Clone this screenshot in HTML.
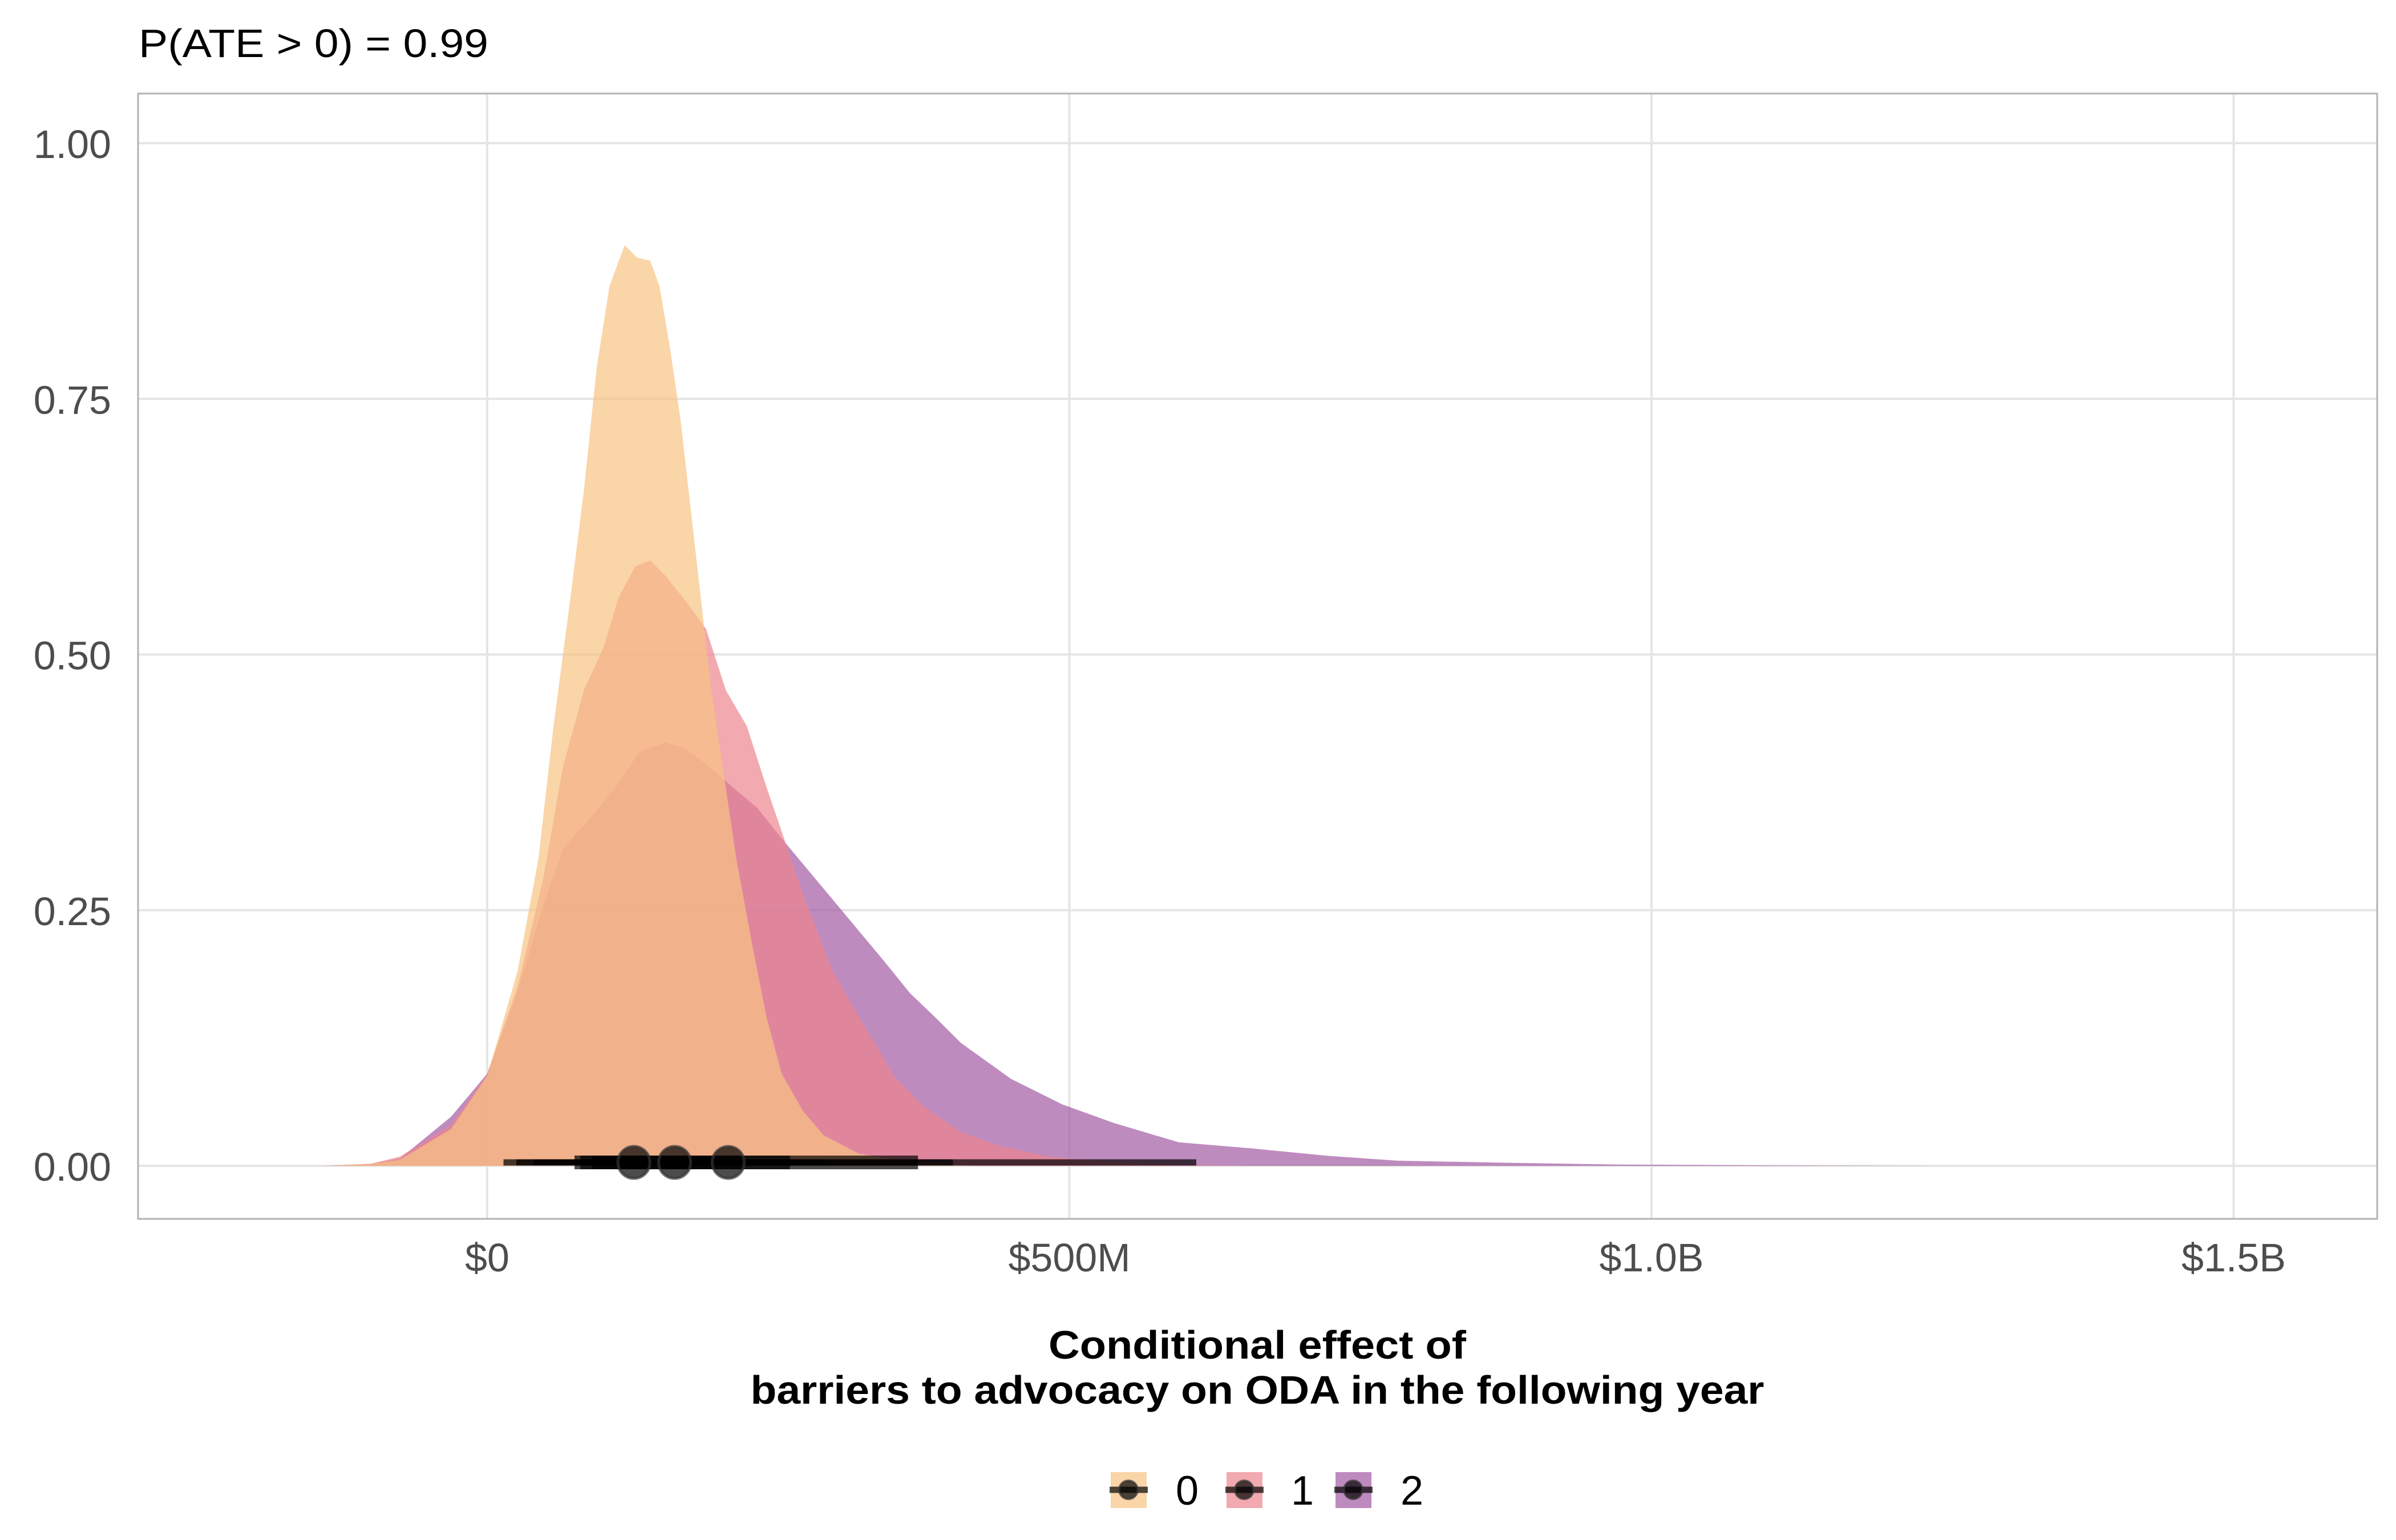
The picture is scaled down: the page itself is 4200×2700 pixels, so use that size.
<!DOCTYPE html>
<html><head><meta charset="utf-8"><style>
html,body{margin:0;padding:0;background:#fff;}
svg{display:block;font-family:"Liberation Sans",sans-serif;}
</style></head><body>
<svg id="chart" xmlns="http://www.w3.org/2000/svg" width="4200" height="2700" viewBox="0 0 4200 2700">
<rect x="0" y="0" width="4200" height="2700" fill="#fff"/>
<text x="243" y="100" font-size="70" fill="#000" textLength="613" lengthAdjust="spacingAndGlyphs">P(ATE &gt; 0) = 0.99</text>
<defs><clipPath id="pc"><rect x="242" y="164" width="3925" height="1973"/></clipPath></defs>
<g id="grid"></g>
<g id="dens" clip-path="url(#pc)"></g>
<g id="intv"></g>
<rect x="242" y="164" width="3925" height="1973" fill="none" stroke="#b3b3b3" stroke-width="3"/>
<g id="yticks"></g>
<g id="xticks"></g>
<text x="2204" y="2382" text-anchor="middle" font-size="70" font-weight="bold" fill="#000" textLength="732" lengthAdjust="spacingAndGlyphs">Conditional effect of</text>
<text x="2204" y="2461" text-anchor="middle" font-size="70" font-weight="bold" fill="#000" textLength="1777" lengthAdjust="spacingAndGlyphs">barriers to advocacy on ODA in the following year</text>
<g id="legend"></g>
</svg>
<script>
const groups = ["0","1","2"];
const colors = ["#f8c383","#ec858e","#a25aa4"];
const xs0 = [-140,-100,-75,-31,0,26,44,57,72,83,94,105,118,129,140,148,157,166,175,183,192,201,214,227,240,253,271,289,319,363,420];
const ys0 = [0,0.002,0.006,0.036,0.088,0.19,0.30,0.43,0.56,0.66,0.78,0.86,0.90,0.888,0.885,0.86,0.80,0.73,0.64,0.56,0.47,0.40,0.30,0.22,0.145,0.09,0.054,0.03,0.012,0.003,0];
const xs1 = [-140,-100,-75,-31,0,26,48,65,83,100,113,127,140,153,170,188,205,223,240,258,275,297,325,350,375,407,438,482,532,594,650];
const ys1 = [0,0.002,0.009,0.04,0.09,0.175,0.28,0.39,0.465,0.507,0.556,0.586,0.592,0.577,0.553,0.525,0.465,0.43,0.37,0.31,0.254,0.19,0.135,0.087,0.058,0.033,0.02,0.009,0.004,0.001,0];
const xs2 = [-140,-100,-75,-31,0,26,48,65,87,109,131,153,170,188,210,232,253,275,297,319,341,363,385,407,450,494,538,594,657,720,782,876,970,1100,1250];
const ys2 = [0,0.002,0.007,0.048,0.09,0.17,0.254,0.31,0.338,0.368,0.405,0.414,0.408,0.393,0.371,0.35,0.32,0.29,0.26,0.23,0.2,0.169,0.145,0.12,0.085,0.06,0.042,0.023,0.017,0.01,0.005,0.003,0.0013,0.0005,0];
const medians = [126,161,207];
const lo95 = [14,25,40];
const hi95 = [290,400,609];
const lo66 = [80,90,75];
const hi66 = [195,260,370];
const yTickVals = [0,0.25,0.5,0.75,1];
const yTickLabels = ["0.00","0.25","0.50","0.75","1.00"];
const xTickVals = [0,500,1000,1500];
const xTickLabels = ["$0","$500M","$1.0B","$1.5B"];

const NS = "http://www.w3.org/2000/svg";
const X = m => 854 + m * 2.041;
const Y = d => 2044 - d * 1793;
function mk(tag, attrs, parent){
  const e = document.createElementNS(NS, tag);
  for (const k in attrs) e.setAttribute(k, attrs[k]);
  parent.appendChild(e); return e;
}
const grid = document.getElementById('grid');
yTickVals.forEach((v,i)=>{
  const l = mk('line',{x1:242,x2:4167,y1:Y(v),y2:Y(v),stroke:'#e5e5e5','stroke-width':4},grid);
  
  
  const t = mk('text',{x:195,y:Y(v)+26,'text-anchor':'end','font-size':70,fill:'#4d4d4d'},document.getElementById('yticks'));
  t.textContent = yTickLabels[i];
  
  
});
xTickVals.forEach((v,i)=>{
  const l = mk('line',{x1:X(v),x2:X(v),y1:164,y2:2137,stroke:'#e5e5e5','stroke-width':4},grid);
  
  
  const t = mk('text',{x:X(v),y:2229,'text-anchor':'middle','font-size':70,fill:'#4d4d4d'},document.getElementById('xticks'));
  t.textContent = xTickLabels[i];
  
  
});
const dens = document.getElementById('dens');
const allX = [xs0,xs1,xs2], allY = [ys0,ys1,ys2];
[2,1,0].forEach(g=>{
  const xs = allX[g], ys = allY[g];
  let d = 'M' + X(xs[0]) + ',' + Y(0);
  for (let i=0;i<xs.length;i++) d += ' L' + X(xs[i]).toFixed(1) + ',' + Y(ys[i]).toFixed(1);
  d += ' L' + X(xs[xs.length-1]) + ',' + Y(0) + ' Z';
  const p = mk('path',{d:d,fill:colors[g],'fill-opacity':0.7},dens);
  
  
});
const intv = document.getElementById('intv');
const y0 = Y(0) - 6;
[0,1,2].forEach(g=>{
  const a = mk('line',{x1:X(lo95[g]),x2:X(hi95[g]),y1:y0,y2:y0,stroke:'#000','stroke-opacity':0.7,'stroke-width':11},intv);
  
  
  const b = mk('line',{x1:X(lo66[g]),x2:X(hi66[g]),y1:y0,y2:y0,stroke:'#000','stroke-opacity':0.7,'stroke-width':24},intv);
  
  
});
[0,1,2].forEach(g=>{
  const c = mk('circle',{cx:X(medians[g]),cy:y0,r:28,fill:'#000','fill-opacity':0.7,stroke:'#333','stroke-opacity':0.7,'stroke-width':5},intv);
  
  
});
const leg = document.getElementById('legend');
const keyX = [1947,2150,2341], labX = [2061,2263,2455];
[0,1,2].forEach(g=>{
  const k = mk('rect',{x:keyX[g],y:2581,width:63,height:63,fill:colors[g],'fill-opacity':0.7},leg);
  
  
  const ln = mk('line',{x1:keyX[g]-2,x2:keyX[g]+65,y1:2612,y2:2612,stroke:'#000','stroke-opacity':0.7,'stroke-width':11},leg);
  
  
  const c = mk('circle',{cx:keyX[g]+31,cy:2612,r:16,fill:'#000','fill-opacity':0.7,stroke:'#333','stroke-width':4,'stroke-opacity':0.7},leg);
  
  
  const t = mk('text',{x:labX[g],y:2638,'font-size':72,fill:'#000'},leg);
  t.textContent = groups[g];
  
  
});
</script>
</body></html>
